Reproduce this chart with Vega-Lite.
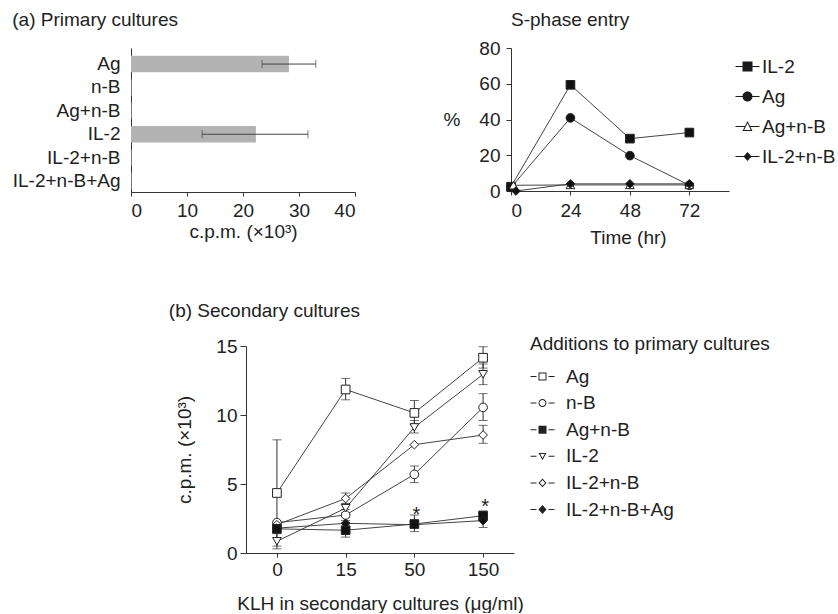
{
  "$schema": "https://vega.github.io/schema/vega-lite/v6.json",
  "background": "white",
  "padding": {"left": 12, "top": 10, "right": 0, "bottom": 0},
  "config": {
    "font": "Liberation Sans",
    "view": {"stroke": null},
    "axis": {"labelFont": "Liberation Sans", "titleFont": "Liberation Sans", "labelFontSize": 19, "titleFontSize": 19, "labelColor": "#222", "titleColor": "#222", "titleFontWeight": "normal", "domainColor": "#333", "tickColor": "#333", "grid": false},
    "title": {"font": "Liberation Sans", "fontSize": 19, "fontWeight": "normal", "color": "#222"},
    "legend": {"labelFont": "Liberation Sans", "titleFont": "Liberation Sans", "labelFontSize": 19, "titleFontSize": 19, "titleFontWeight": "normal", "labelColor": "#222", "titleColor": "#222", "padding": 0}
  },
  "resolve": {"scale": {"shape": "independent", "fill": "independent"}, "legend": {"shape": "independent", "fill": "independent"}},
  "spacing": 55,
  "vconcat": [
    {
      "spacing": 86,
      "resolve": {"scale": {"shape": "independent", "fill": "independent"}, "legend": {"shape": "independent", "fill": "independent"}},
      "hconcat": [
        {
          "width": 224,
          "height": 144,
          "title": {"text": "(a)  Primary cultures", "anchor": "start", "frame": "bounds", "offset": 18.5},
          "data": {"values": [
            {"treatment": "Ag", "cpm": 28.2, "low": 23.4, "high": 33.0},
            {"treatment": "n-B", "cpm": 0.1},
            {"treatment": "Ag+n-B", "cpm": 0.1},
            {"treatment": "IL-2", "cpm": 22.3, "low": 12.7, "high": 31.6},
            {"treatment": "IL-2+n-B", "cpm": 0.1},
            {"treatment": "IL-2+n-B+Ag", "cpm": 0.1}
          ]},
          "encoding": {
            "y": {"field": "treatment", "type": "nominal", "sort": null, "title": null, "scale": {"paddingInner": 0.3, "paddingOuter": 0.227, "align": 0.74}, "axis": {"ticks": false, "labelPadding": 11}}
          },
          "layer": [
            {
              "mark": {"type": "bar", "color": "#b3b3b3"},
              "encoding": {
                "x": {"field": "cpm", "type": "quantitative", "title": "c.p.m. (×10³)", "scale": {"domain": [0, 40], "nice": false}, "axis": {"values": [0, 10, 20, 30, 40], "tickSize": 4, "labelPadding": 5, "titlePadding": 2}}
              }
            },
            {
              "transform": [{"filter": "isValid(datum.low)"}],
              "mark": {"type": "errorbar", "ticks": {"size": 8, "color": "#444"}, "rule": {"color": "#444"}},
              "encoding": {
                "x": {"field": "low", "type": "quantitative", "title": "c.p.m. (×10³)"},
                "x2": {"field": "high"}
              }
            }
          ]
        },
        {
          "width": 218,
          "height": 143,
          "title": {"text": "S-phase entry", "anchor": "start", "frame": "group", "offset": 9},
          "resolve": {"scale": {"shape": "independent", "fill": "independent"}, "legend": {"shape": "independent", "fill": "independent"}},
          "data": {"values": [
            {"series": "IL-2", "time": 0, "pct": 2.4},
            {"series": "IL-2", "time": 24, "pct": 59.4},
            {"series": "IL-2", "time": 48, "pct": 29.3},
            {"series": "IL-2", "time": 72, "pct": 32.7},
            {"series": "Ag", "time": 0, "pct": 2.0},
            {"series": "Ag", "time": 24, "pct": 40.9},
            {"series": "Ag", "time": 48, "pct": 19.8},
            {"series": "Ag", "time": 72, "pct": 3.2},
            {"series": "Ag+n-B", "time": 1, "pct": 3.2},
            {"series": "Ag+n-B", "time": 24, "pct": 3.4},
            {"series": "Ag+n-B", "time": 48, "pct": 3.4},
            {"series": "Ag+n-B", "time": 72, "pct": 3.4},
            {"series": "IL-2+n-B", "time": 2, "pct": 0},
            {"series": "IL-2+n-B", "time": 24, "pct": 4},
            {"series": "IL-2+n-B", "time": 48, "pct": 4},
            {"series": "IL-2+n-B", "time": 72, "pct": 4}
          ]},
          "encoding": {
            "x": {"field": "time", "type": "quantitative", "title": "Time (hr)", "scale": {"domain": [0, 88], "nice": false}, "axis": {"values": [0, 24, 48, 72], "tickSize": 4, "labelPadding": 6, "titlePadding": 8, "titleX": 117}},
            "y": {"field": "pct", "type": "quantitative", "title": "%", "scale": {"domain": [0, 80], "nice": false}, "axis": {"values": [0, 20, 40, 60, 80], "tickSize": 5, "labelPadding": 6, "titleAngle": 0, "titleAlign": "right", "titleBaseline": "middle", "titlePadding": 19}}
          },
          "layer": [
            {
              "mark": {"type": "line", "color": "#444", "strokeWidth": 1},
              "encoding": {"detail": {"field": "series", "type": "nominal"}}
            },
            {
              "mark": {"type": "point", "filled": true, "opacity": 1, "stroke": "#222", "strokeWidth": 1, "size": 75},
              "encoding": {
                "shape": {"field": "series", "type": "nominal", "scale": {"domain": ["IL-2", "Ag", "Ag+n-B", "IL-2+n-B"], "range": ["square", "circle", "triangle-up", "diamond"]}, "legend": null},
                "fill": {"field": "series", "type": "nominal", "scale": {"domain": ["IL-2", "Ag", "Ag+n-B", "IL-2+n-B"], "range": ["#111", "#111", "white", "#111"]}, "legend": null}
              }
            },
            {
              "transform": [{"filter": "false"}],
              "mark": {"type": "point", "filled": true, "opacity": 1, "size": 100},
              "encoding": {
                "shape": {
                  "field": "series", "type": "nominal",
                  "scale": {"domain": ["IL-2", "Ag", "Ag+n-B", "IL-2+n-B"], "range": [
                    "M-2.8,-0.1H2V0.1H-2.8ZM-1.4,-1H0.6V1H-1.4Z",
                    "M-2.8,-0.1H2V0.1H-2.8ZM-1.4,0A1,1,0,1,1,0.6,0A1,1,0,1,1,-1.4,0Z",
                    "M-2.8,-0.1H-0.95V0.1H-2.8ZM0.15,-0.1H2V0.1H0.15ZM-0.4,-1.1L0.6,0.9H-1.4ZM-0.4,-0.652L-1.076,0.7L0.276,0.7Z",
                    "M-2.8,-0.1H2V0.1H-2.8ZM-0.4,-0.9L0.4,0L-0.4,0.9L-1.2,0Z"
                  ]},
                  "legend": {"title": null, "orient": "none", "legendX": 229, "legendY": 9, "rowPadding": 10, "labelOffset": 3, "symbolSize": 100}
                },
                "fill": {
                  "field": "series", "type": "nominal",
                  "scale": {"domain": ["IL-2", "Ag", "Ag+n-B", "IL-2+n-B"], "range": ["#1a1a1a", "#1a1a1a", "#1a1a1a", "#1a1a1a"]},
                  "legend": {"title": null, "orient": "none", "legendX": 229, "legendY": 9, "rowPadding": 10, "labelOffset": 3, "symbolSize": 100}
                }
              }
            }
          ]
        }
      ]
    },
    {
      "spacing": 8,
      "resolve": {"scale": {"shape": "independent", "fill": "independent"}, "legend": {"shape": "independent", "fill": "independent"}},
      "hconcat": [
        {
          "width": 29,
          "height": 20,
          "view": {"fill": "transparent", "stroke": null},
          "data": {"values": []},
          "mark": {"type": "point"},
          "encoding": {}
        },
        {
          "width": 268,
          "height": 207,
          "title": {"text": "(b)  Secondary cultures", "anchor": "start", "frame": "bounds", "offset": 14, "dx": -7},
          "resolve": {"scale": {"shape": "independent", "fill": "independent"}, "legend": {"shape": "independent", "fill": "independent"}},
          "data": {"values": [
            {"series": "Ag", "klh": 0, "cpm": 4.35, "low": 0.5, "high": 8.2},
            {"series": "Ag", "klh": 15, "cpm": 11.85, "low": 11.1, "high": 12.65},
            {"series": "Ag", "klh": 50, "cpm": 10.15, "low": 9.3, "high": 11.05},
            {"series": "Ag", "klh": 150, "cpm": 14.15, "low": 13.4, "high": 14.95},
            {"series": "n-B", "klh": 0, "cpm": 2.2},
            {"series": "n-B", "klh": 15, "cpm": 2.75, "low": 2.35, "high": 3.15},
            {"series": "n-B", "klh": 50, "cpm": 5.7, "low": 5.1, "high": 6.3},
            {"series": "n-B", "klh": 150, "cpm": 10.55, "low": 9.6, "high": 11.55},
            {"series": "IL-2", "klh": 0, "cpm": 0.85, "low": 0.3, "high": 1.4},
            {"series": "IL-2", "klh": 15, "cpm": 3.25, "low": 2.9, "high": 3.6},
            {"series": "IL-2", "klh": 50, "cpm": 9.1, "low": 8.7, "high": 9.6},
            {"series": "IL-2", "klh": 150, "cpm": 12.95, "low": 12.2, "high": 13.7},
            {"series": "IL-2+n-B", "klh": 0, "cpm": 2.05},
            {"series": "IL-2+n-B", "klh": 15, "cpm": 3.95, "low": 3.55, "high": 4.35},
            {"series": "IL-2+n-B", "klh": 50, "cpm": 7.85},
            {"series": "IL-2+n-B", "klh": 150, "cpm": 8.55, "low": 7.95, "high": 9.25},
            {"series": "Ag+n-B", "klh": 0, "cpm": 1.75},
            {"series": "Ag+n-B", "klh": 15, "cpm": 1.65, "low": 1.15, "high": 2.2},
            {"series": "Ag+n-B", "klh": 50, "cpm": 2.1, "low": 1.55, "high": 2.75},
            {"series": "Ag+n-B", "klh": 150, "cpm": 2.7, "low": 2.4, "high": 3.05},
            {"series": "IL-2+n-B+Ag", "klh": 0, "cpm": 1.8},
            {"series": "IL-2+n-B+Ag", "klh": 15, "cpm": 2.15},
            {"series": "IL-2+n-B+Ag", "klh": 50, "cpm": 2.05},
            {"series": "IL-2+n-B+Ag", "klh": 150, "cpm": 2.35, "low": 1.85, "high": 2.85}
          ]},
          "encoding": {
            "x": {"field": "klh", "type": "ordinal", "title": "KLH in secondary cultures (μg/ml)", "scale": {"type": "point", "domain": [0, 15, 50, 150], "padding": 0.45}, "axis": {"labelAngle": 0, "tickSize": 4, "labelPadding": 3, "titlePadding": 15}}
          },
          "layer": [
            {
              "mark": {"type": "line", "color": "#444", "strokeWidth": 1},
              "encoding": {
                "y": {"field": "cpm", "type": "quantitative", "title": "c.p.m. (×10³)", "scale": {"domain": [0, 15], "nice": false}, "axis": {"values": [0, 5, 10, 15], "tickSize": 6, "labelPadding": 3, "titlePadding": 21}},
                "detail": {"field": "series", "type": "nominal"}
              }
            },
            {
              "transform": [{"filter": "isValid(datum.low)"}],
              "mark": {"type": "errorbar", "ticks": {"size": 9, "color": "#333"}, "rule": {"color": "#333"}},
              "encoding": {
                "y": {"field": "low", "type": "quantitative", "title": "c.p.m. (×10³)"},
                "y2": {"field": "high"}
              }
            },
            {
              "mark": {"type": "point", "filled": true, "opacity": 1, "stroke": "#222", "strokeWidth": 1, "size": 75},
              "encoding": {
                "y": {"field": "cpm", "type": "quantitative", "title": "c.p.m. (×10³)"},
                "shape": {"field": "series", "type": "nominal", "scale": {"domain": ["Ag", "n-B", "Ag+n-B", "IL-2", "IL-2+n-B", "IL-2+n-B+Ag"], "range": ["square", "circle", "square", "triangle-down", "diamond", "diamond"]}, "legend": null},
                "fill": {"field": "series", "type": "nominal", "scale": {"domain": ["Ag", "n-B", "Ag+n-B", "IL-2", "IL-2+n-B", "IL-2+n-B+Ag"], "range": ["white", "white", "#111", "white", "white", "#111"]}, "legend": null}
              }
            },
            {
              "transform": [{"filter": "false"}],
              "mark": {"type": "point", "filled": true, "opacity": 1, "size": 64},
              "encoding": {
                "y": {"field": "cpm", "type": "quantitative", "title": "c.p.m. (×10³)"},
                "shape": {
                  "field": "series", "type": "nominal",
                  "scale": {"domain": ["Ag", "n-B", "Ag+n-B", "IL-2", "IL-2+n-B", "IL-2+n-B+Ag"], "range": [
                    "M-2.25,-0.125H-0.75V0.125H-2.25ZM2.25,-0.125H3.75V0.125H2.25ZM-0.25,-1H1.75V1H-0.25ZM0,-0.75V0.75H1.5V-0.75Z",
                    "M-2.25,-0.125H-0.75V0.125H-2.25ZM2.25,-0.125H3.75V0.125H2.25ZM-0.25,0A1,1,0,1,1,1.75,0A1,1,0,1,1,-0.25,0ZM0,0A0.75,0.75,0,1,0,1.5,0A0.75,0.75,0,1,0,0,0Z",
                    "M-2.25,-0.125H-0.75V0.125H-2.25ZM2.25,-0.125H3.75V0.125H2.25ZM-0.25,-1H1.75V1H-0.25Z",
                    "M-2.25,-0.125H-0.75V0.125H-2.25ZM2.25,-0.125H3.75V0.125H2.25ZM-0.25,-0.85H1.75L0.75,0.95ZM0.175,-0.6L0.75,0.435L1.325,-0.6Z",
                    "M-2.25,-0.125H-0.75V0.125H-2.25ZM2.25,-0.125H3.75V0.125H2.25ZM-0.25,0L0.75,-1.1L1.75,0L0.75,1.1ZM0.09,0L0.75,0.73L1.41,0L0.75,-0.73Z",
                    "M-2.25,-0.125H-0.75V0.125H-2.25ZM2.25,-0.125H3.75V0.125H2.25ZM-0.25,0L0.75,-1.1L1.75,0L0.75,1.1Z"
                  ]},
                  "legend": {"title": "Additions to primary cultures", "orient": "none", "legendX": 284, "legendY": -11, "titlePadding": 13, "rowPadding": 6.6, "labelOffset": 17, "symbolSize": 64, "titleLimit": 400}
                },
                "fill": {
                  "field": "series", "type": "nominal",
                  "scale": {"domain": ["Ag", "n-B", "Ag+n-B", "IL-2", "IL-2+n-B", "IL-2+n-B+Ag"], "range": ["#222", "#222", "#222", "#222", "#222", "#222"]},
                  "legend": {"title": "Additions to primary cultures", "orient": "none", "legendX": 284, "legendY": -11, "titlePadding": 13, "rowPadding": 6.6, "labelOffset": 17, "symbolSize": 64, "titleLimit": 400}
                }
              }
            },
            {
              "data": {"values": [
                {"klh": 50, "cpm": 3.05, "note": "*"},
                {"klh": 150, "cpm": 3.6, "note": "*"}
              ]},
              "mark": {"type": "text", "fontSize": 20, "baseline": "middle", "dy": 4, "dx": 2, "color": "#222"},
              "encoding": {
                "y": {"field": "cpm", "type": "quantitative", "title": "c.p.m. (×10³)"},
                "text": {"field": "note"}
              }
            }
          ]
        }
      ]
    }
  ]
}
